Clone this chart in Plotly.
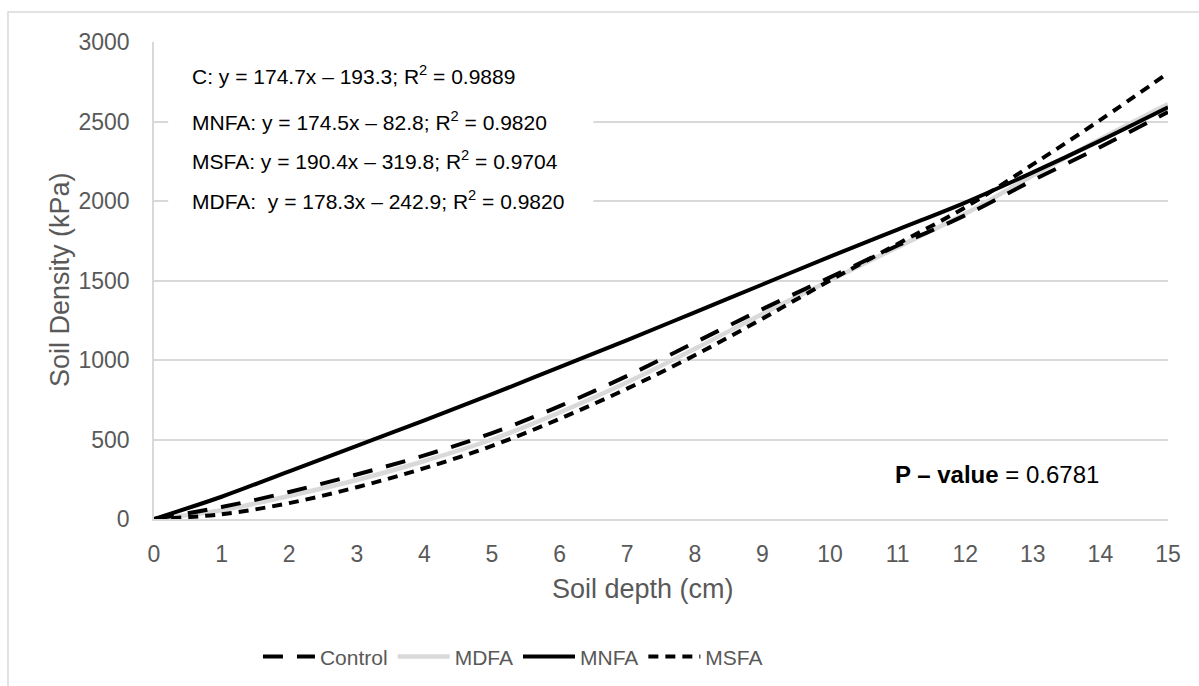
import plotly.graph_objects as go

# Soil depth (cm) sampled at whole centimetres
depth = list(range(0, 16))

# Soil density (kPa) for each treatment
control = [0, 75, 170, 280, 400, 540, 710, 900, 1110, 1320, 1520, 1720, 1910, 2130, 2340, 2560]
mdfa = [0, 55, 145, 245, 365, 500, 670, 860, 1070, 1290, 1500, 1710, 1920, 2160, 2390, 2610]
mnfa = [0, 140, 300, 460, 620, 785, 955, 1125, 1300, 1475, 1650, 1820, 1990, 2180, 2380, 2590]
msfa = [0, 30, 100, 200, 320, 460, 630, 820, 1030, 1260, 1500, 1730, 1960, 2230, 2510, 2805]

equations = [
    "C: y = 174.7x – 193.3; R<sup>2</sup> = 0.9889",
    "MNFA: y = 174.5x – 82.8; R<sup>2</sup> = 0.9820",
    "MSFA: y = 190.4x – 319.8; R<sup>2</sup> = 0.9704",
    "MDFA:  y = 178.3x – 242.9; R<sup>2</sup> = 0.9820",
]
equation_y = [2792, 2503, 2258, 2006]
p_value_text = "<b>P – value</b> = 0.6781"

FONT = "Arial, Liberation Sans, sans-serif"
GRID = "#d9d9d9"
TEXT_GRAY = "#595959"

fig = go.Figure()

# gray line underneath, black lines on top
fig.add_trace(go.Scatter(x=depth, y=mdfa, name="MDFA", mode="lines", legendrank=2,
                         line=dict(color="#d9d9d9", width=4.5, shape="spline")))
fig.add_trace(go.Scatter(x=depth, y=control, name="Control", mode="lines", legendrank=1,
                         line=dict(color="black", width=4, dash="20px,14px", shape="spline")))
fig.add_trace(go.Scatter(x=depth, y=mnfa, name="MNFA", mode="lines", legendrank=3,
                         line=dict(color="black", width=4, shape="spline")))
fig.add_trace(go.Scatter(x=depth, y=msfa, name="MSFA", mode="lines", legendrank=4,
                         line=dict(color="black", width=4, dash="10px,7px", shape="spline")))

annotations = []
for txt, yv in zip(equations, equation_y):
    annotations.append(dict(x=0.53, y=yv, xref="x", yref="y", text=txt, showarrow=False,
                            xanchor="left", yanchor="middle",
                            font=dict(family=FONT, size=21, color="black")))
annotations.append(dict(x=10.93, y=277, xref="x", yref="y", text=p_value_text, showarrow=False,
                        xanchor="left", yanchor="middle",
                        font=dict(family=FONT, size=24, color="black")))
# axis titles
annotations.append(dict(x=-0.0927, y=0.501, xref="paper", yref="paper", text="Soil Density (kPa)",
                        textangle=-90, showarrow=False, xanchor="center", yanchor="middle",
                        font=dict(family=FONT, size=27, color=TEXT_GRAY)))
annotations.append(dict(x=0.482, y=-0.147, xref="paper", yref="paper", text="Soil depth (cm)",
                        showarrow=False, xanchor="center", yanchor="middle",
                        font=dict(family=FONT, size=27, color=TEXT_GRAY)))

shapes = [
    # white panel behind the regression equations
    dict(type="rect", xref="x", yref="y", x0=0.21, x1=6.89, y0=2900, y1=3100,
         fillcolor="white", line=dict(width=0), layer="between"),
    dict(type="rect", xref="x", yref="y", x0=0.21, x1=6.5, y0=1900, y1=2900,
         fillcolor="white", line=dict(width=0), layer="between"),
    # chart frame
    dict(type="rect", xref="paper", yref="paper", x0=-0.144, x1=1.2, y0=-0.6, y1=1.063,
         fillcolor="rgba(0,0,0,0)", line=dict(color=GRID, width=1.5), layer="below"),
]

fig.update_layout(
    width=1199, height=686,
    margin=dict(l=154, r=31, t=42, b=167, autoexpand=False),
    paper_bgcolor="white", plot_bgcolor="white",
    font=dict(family=FONT, color=TEXT_GRAY),
    showlegend=True,
    legend=dict(orientation="h", x=0.354, y=-0.289, xanchor="center", yanchor="middle",
                font=dict(family=FONT, size=21, color=TEXT_GRAY), itemwidth=52,
                traceorder="normal", bgcolor="rgba(0,0,0,0)"),
    annotations=annotations,
    shapes=shapes,
    xaxis=dict(range=[0, 15], dtick=1, tick0=0, showgrid=False, zeroline=False,
               showline=True, linecolor=GRID, linewidth=1.5,
               tickfont=dict(family=FONT, size=23, color=TEXT_GRAY), ticklabelstandoff=14),
    yaxis=dict(range=[0, 3000], dtick=500, showgrid=True, gridcolor=GRID, gridwidth=1.5,
               zeroline=False, showline=True, linecolor=GRID, linewidth=1.5,
               tickfont=dict(family=FONT, size=23, color=TEXT_GRAY), ticklabelstandoff=18),
)

fig.write_html("out.html")
